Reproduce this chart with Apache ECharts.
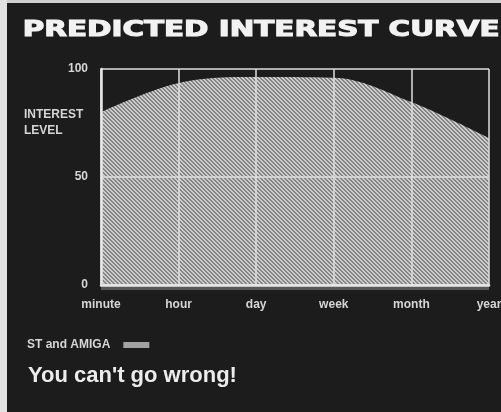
<!DOCTYPE html>
<html>
<head>
<meta charset="utf-8">
<script src="https://cdn.jsdelivr.net/npm/echarts@6/dist/echarts.min.js"></script>
<style>
  html, body { margin: 0; padding: 0; background: #1c1c1c; }
  #chart { width: 501px; height: 412px; }
</style>
</head>
<body>
<div id="chart"></div>
<script>
// Time scale along the bottom, from quick glance to long-term play
const periods = ['minute', 'hour', 'day', 'week', 'month', 'year'];
// Interest level for ST and AMIGA owners over each period
const interestLevel = [80, 93.5, 96.3, 96, 84.7, 68];
const yTicks = [0, 50, 100];
const seriesName = 'ST and AMIGA';

// Diagonal hatching tile used to fill the area under the curve
function hatchTile() {
  const c = document.createElement('canvas');
  c.width = 4; c.height = 4;
  const g = c.getContext('2d');
  g.fillStyle = '#848484';
  g.fillRect(0, 0, 4, 4);
  g.fillStyle = '#cdcdcd';
  for (let i = 0; i < 4; i++) {
    g.fillRect(i, i, 1, 1);
    g.fillRect((i + 1) % 4, i, 1, 1);
  }
  return c;
}

const chart = echarts.init(document.getElementById('chart'), null, { renderer: 'canvas' });
const smallFont = 'Liberation Sans, Arial, sans-serif';
const labelFont = { color: '#d6d6d6', fontSize: 12, fontWeight: 'bold', fontFamily: smallFont };

chart.setOption({
  backgroundColor: '#1c1c1c',
  animation: false,
  graphic: [
    // pale paper edge along the top and left
    { type: 'rect', left: 0, top: 0, shape: { width: 501, height: 3 }, style: { fill: '#cfcfcf' }, z: 10 },
    { type: 'rect', left: 0, top: 0, shape: { width: 7, height: 412 }, style: { fill: '#e2e2e2' }, z: 10 },
    {
      type: 'text', left: 22, top: 19, scaleX: 1.4,
      style: {
        text: 'PREDICTED INTEREST CURVE', fill: '#f2f2f2',
        stroke: '#f2f2f2', lineWidth: 1.1,
        font: '900 21px "DejaVu Sans", sans-serif'
      }
    },
    {
      type: 'text', left: 24, top: 107,
      style: { text: 'INTEREST\nLEVEL', fill: '#d6d6d6', font: 'bold 12px "Liberation Sans", Arial, sans-serif', lineHeight: 16 }
    },
    {
      type: 'text', left: 28, top: 365,
      style: { text: "You can't go wrong!", fill: '#ececec', font: 'bold 22px "Liberation Sans", Arial, sans-serif' }
    }
  ],
  legend: {
    data: [seriesName],
    left: 22, top: 334,
    padding: 5,
    align: 'right',
    icon: 'rect',
    itemWidth: 26, itemHeight: 6, itemGap: 10,
    textStyle: Object.assign({ padding: [0, 8, 0, 0] }, labelFont),
    itemStyle: { color: '#a2a2a2' }
  },
  grid: {
    left: 101, right: 12, top: 69, bottom: 127,
    outerBoundsMode: 'none',
    containLabel: false,
    show: true, borderWidth: 0,
    backgroundColor: '#1c1c1c',
    shadowColor: '#585858', shadowOffsetY: 5, shadowOffsetX: 0, shadowBlur: 0
  },
  xAxis: {
    type: 'category',
    data: periods,
    boundaryGap: false,
    z: 5,
    axisLine: { lineStyle: { color: '#e6e6e6', width: 2.5 } },
    axisTick: { show: false },
    axisLabel: Object.assign({ margin: 14 }, labelFont),
    splitLine: { show: true, lineStyle: { color: '#dedede', width: 1.5 } }
  },
  yAxis: {
    type: 'value',
    min: yTicks[0], max: yTicks[yTicks.length - 1], interval: 50,
    z: 5,
    axisLine: { show: true, lineStyle: { color: '#e6e6e6', width: 2.5 } },
    axisTick: { show: false },
    axisLabel: Object.assign({ margin: 13 }, labelFont),
    splitLine: { show: true, lineStyle: { color: '#dedede', width: 1.5 } }
  },
  series: [{
    name: seriesName,
    type: 'line',
    data: interestLevel,
    smooth: 0.35,
    showSymbol: false,
    color: '#a2a2a2',
    lineStyle: { width: 0 },
    areaStyle: { color: { image: hatchTile(), repeat: 'repeat' }, opacity: 1 }
  }]
});
</script>
</body>
</html>
